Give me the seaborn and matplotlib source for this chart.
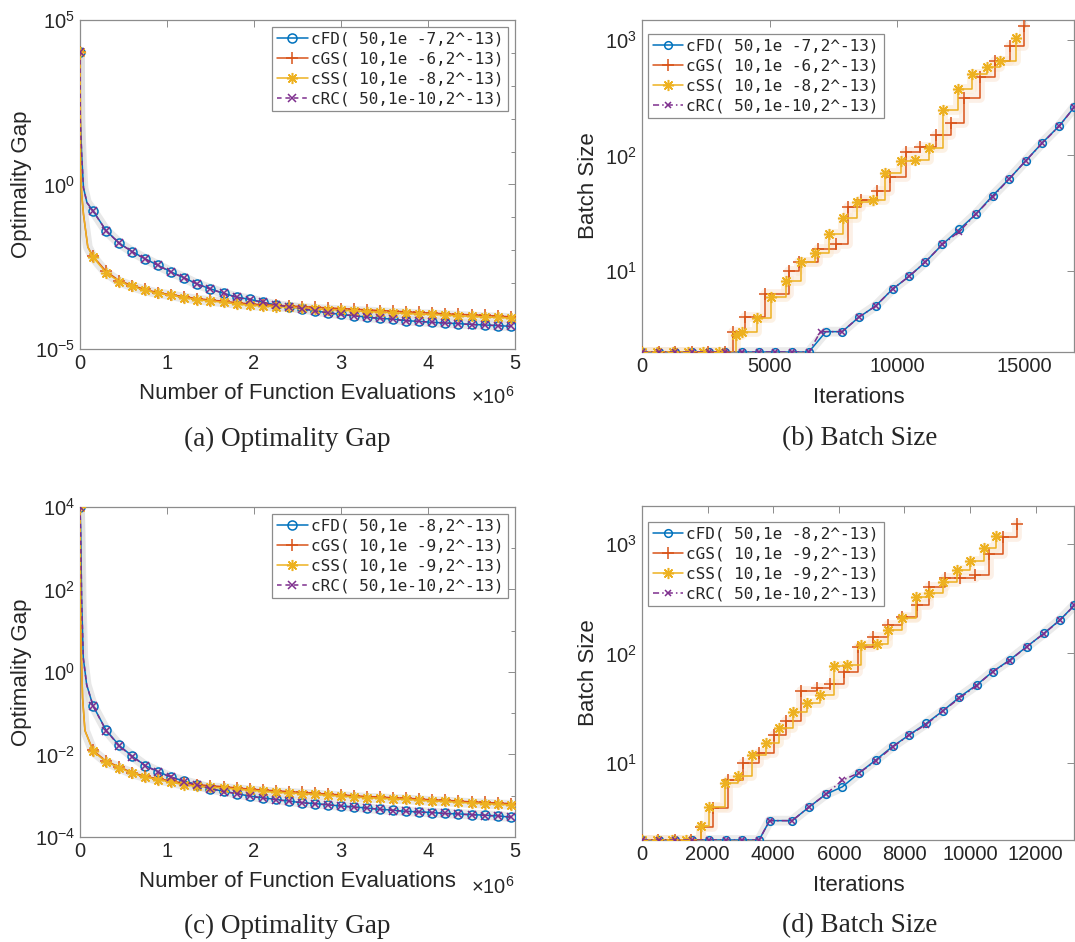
import numpy as np
import pandas as pd
import matplotlib
matplotlib.use("Agg")
import matplotlib.pyplot as plt
import seaborn as sns
from matplotlib.ticker import (FixedLocator, NullLocator, NullFormatter,
                               LogFormatterSciNotation)

# ---------------------------------------------------------------------------
# Data
# ---------------------------------------------------------------------------

# marker positions on the optimality gap panels (x 10^6 function evaluations)
evals = [0.15, 0.30, 0.45, 0.60, 0.75, 0.90, 1.05, 1.20, 1.35, 1.50, 1.65,
         1.80, 1.95, 2.10, 2.25, 2.40, 2.55, 2.70, 2.85, 3.00, 3.15, 3.30,
         3.45, 3.60, 3.75, 3.90, 4.05, 4.20, 4.35, 4.50, 4.65, 4.80, 4.95]

# panel (a): log10 of the optimality gap
a_fd_head_x = [0, 0.003, 0.02, 0.04, 0.08]
a_fd_head = [4.04, 2.0, 0.9, -0.1, -0.55]
a_fd = [-0.80, -1.40, -1.78, -2.04, -2.26, -2.46, -2.66, -2.84, -3.03, -3.17,
        -3.31, -3.42, -3.49, -3.58, -3.66, -3.71, -3.77, -3.84, -3.90, -3.95,
        -3.99, -4.03, -4.07, -4.09, -4.14, -4.16, -4.19, -4.21, -4.23, -4.25,
        -4.27, -4.29, -4.31]
a_rc = [-0.81, -1.40, -1.79, -2.04, -2.27, -2.46, -2.67, -2.84, -3.03, -3.18,
        -3.31, -3.43, -3.50, -3.58, -3.66, -3.72, -3.77, -3.84, -3.90, -3.95,
        -3.99, -4.04, -4.07, -4.10, -4.14, -4.16, -4.19, -4.21, -4.23, -4.26,
        -4.27, -4.29, -4.31]
a_ss_head_x = [0, 0.003, 0.008, 0.02, 0.04, 0.09]
a_ss_head = [4.04, 2.8, 0.35, -0.3, -0.9, -1.9]
a_ss = [-2.21, -2.68, -2.95, -3.10, -3.22, -3.31, -3.37, -3.44, -3.50, -3.54,
        -3.58, -3.63, -3.67, -3.69, -3.71, -3.73, -3.75, -3.78, -3.80, -3.82,
        -3.84, -3.86, -3.88, -3.90, -3.92, -3.94, -3.95, -3.97, -3.99, -4.01,
        -4.03, -4.04, -4.06]
a_gs = [-2.18, -2.64, -2.92, -3.07, -3.19, -3.29, -3.35, -3.41, -3.47, -3.51,
        -3.55, -3.59, -3.63, -3.65, -3.67, -3.69, -3.71, -3.73, -3.75, -3.77,
        -3.79, -3.81, -3.83, -3.85, -3.87, -3.89, -3.91, -3.93, -3.95, -3.96,
        -3.98, -4.00, -4.02]

# panel (c): log10 of the optimality gap
c_fd_head_x = [0, 0.008, 0.019, 0.038, 0.077]
c_fd_head = [4.0, 3.4, 1.78, 0.34, -0.31]
c_fd = [-0.82, -1.41, -1.78, -2.04, -2.27, -2.42, -2.55, -2.65, -2.73, -2.83,
        -2.89, -2.95, -3.01, -3.05, -3.09, -3.13, -3.17, -3.19, -3.22, -3.25,
        -3.27, -3.30, -3.33, -3.35, -3.38, -3.39, -3.41, -3.43, -3.44, -3.46,
        -3.47, -3.49, -3.52]
c_rc = [-0.82, -1.42, -1.79, -2.05, -2.27, -2.43, -2.55, -2.66, -2.74, -2.83,
        -2.90, -2.95, -3.01, -3.06, -3.10, -3.13, -3.17, -3.20, -3.22, -3.25,
        -3.28, -3.30, -3.33, -3.36, -3.38, -3.40, -3.41, -3.43, -3.45, -3.46,
        -3.48, -3.49, -3.52]
c_ss_head_x = [0, 0.005, 0.011, 0.03, 0.057]
c_ss_head = [4.0, 2.5, 0.75, -0.63, -1.42]
c_ss = [-1.92, -2.18, -2.32, -2.46, -2.55, -2.61, -2.67, -2.74, -2.77, -2.80,
        -2.81, -2.84, -2.87, -2.89, -2.92, -2.93, -2.95, -2.97, -2.99, -3.01,
        -3.03, -3.05, -3.06, -3.08, -3.09, -3.11, -3.13, -3.14, -3.16, -3.18,
        -3.19, -3.21, -3.22]
c_gs = [-1.90, -2.16, -2.30, -2.44, -2.53, -2.59, -2.64, -2.70, -2.73, -2.76,
        -2.78, -2.81, -2.84, -2.86, -2.88, -2.90, -2.92, -2.94, -2.96, -2.98,
        -3.00, -3.02, -3.03, -3.05, -3.06, -3.08, -3.10, -3.11, -3.13, -3.15,
        -3.16, -3.18, -3.19]

# panel (b): batch size vs iterations
b_fd_it = [0, 654, 1308, 1962, 2616, 3270, 3924, 4578, 5232, 5886, 6540,
           7210, 7850, 8505, 9160, 9827, 10470, 11110, 11776, 12443, 13084,
           13752, 14406, 15047, 15701, 16369, 16956]
b_fd = [2, 2, 2, 2, 2, 2, 2, 2, 2, 2, 2,
        3, 3, 4, 5, 7, 9, 12, 17, 23, 31, 45, 63, 90, 129, 181, 263]
b_rc_it = [0, 654, 1308, 1962, 2616, 3270, 3924, 4578, 5232, 5886, 6540,
           7000, 7850, 8505, 9160, 9827, 10470, 11110, 11776, 12443, 13084,
           13752, 14406, 15047, 15701, 16369, 16956]
b_rc = [2, 2, 2, 2, 2, 2, 2, 2, 2, 2, 2,
        3, 3, 4, 5, 7, 9, 12, 17, 22, 31, 44, 63, 90, 128, 180, 262]
b_gs_it = [0, 650, 1300, 1950, 2600, 3250, 3565, 4032, 4833, 5768, 6168,
           6903, 7610, 8078, 8585, 9212, 9733, 10347, 10908, 11509, 12110,
           12644, 13244, 13845, 14446, 14980]
b_gs = [2, 2, 2, 2, 2, 2, 3, 4, 6.4, 10, 12, 15.6, 17, 36, 41, 49, 65, 107,
        119, 150, 189, 312, 481, 649, 875, 1320]
b_ss_it = [0, 600, 1200, 1800, 2400, 3000, 3670, 3938, 4513, 5047, 5634,
           6235, 6769, 7343, 7877, 8438, 9039, 9546, 10147, 10708, 11242,
           11816, 12377, 12951, 13512, 14046, 14646]
b_ss = [2, 2, 2, 2, 2, 2, 2.8, 3, 3.9, 6, 8.3, 12, 14.4, 21, 29, 40, 41, 70,
        90, 92, 115, 247, 373, 507, 587, 649, 1033]

# panel (d): batch size vs iterations
d_fd_it = [0, 510, 1020, 1530, 2040, 2550, 3060, 3570, 3890, 4578, 5099,
           5598, 6108, 6628, 7128, 7638, 8137, 8658, 9178, 9677, 10198,
           10687, 11207, 11727, 12248, 12737, 13184]
d_fd = [2, 2, 2, 2, 2, 2, 2, 2, 3, 3, 4, 5.2, 6.1, 8.2, 10.7, 14.2, 18, 23,
        30, 40, 51.5, 68, 87, 115, 152, 201, 275]
d_rc_it = [0, 510, 1020, 1530, 2040, 2550, 3060, 3570, 3890, 4578, 5099,
           5598, 6108, 6628, 7128, 7638, 8137, 8658, 9178, 9677, 10198,
           10687, 11207, 11727, 12248, 12737, 13184]
d_rc = [2, 2, 2, 2, 2, 2, 2, 2, 3, 3, 4, 5.2, 7, 8.2, 10.5, 14, 18, 22.5,
        30, 39, 51, 68, 86, 115, 151, 200, 274]
d_gs_it = [0, 500, 1000, 1500, 1790, 2154, 2622, 3090, 3559, 4027, 4391,
           4860, 5328, 5744, 6160, 6576, 7045, 7492, 7929, 8397, 8762, 9230,
           9698, 10166, 10583, 10999, 11446]
d_gs = [2, 2, 2, 2, 2.6, 3.9, 7, 10, 12.3, 18, 24, 45, 48, 53, 68, 115, 142,
        181, 215, 275, 403, 481, 481, 515, 811, 1150, 1520]
d_ss_it = [0, 450, 900, 1350, 1800, 2050, 2518, 2934, 3351, 3767, 4183,
           4599, 5016, 5432, 5848, 6264, 6680, 7149, 7513, 7929, 8345, 8762,
           9178, 9594, 10010, 10427, 10791]
d_ss = [2, 2, 2, 2, 2.7, 4, 6.6, 7.6, 11.9, 15.2, 20.8, 29.5, 35, 42, 76, 78,
        119, 123, 163, 208, 327, 351, 449, 573, 695, 920, 1166]

labels_top = ["cFD( 50,1e -7,2^-13)", "cGS( 10,1e -6,2^-13)",
              "cSS( 10,1e -8,2^-13)", "cRC( 50,1e-10,2^-13)"]
labels_bot = ["cFD( 50,1e -8,2^-13)", "cGS( 10,1e -9,2^-13)",
              "cSS( 10,1e -9,2^-13)", "cRC( 50,1e-10,2^-13)"]

# MATLAB default line colours
C_FD = "#0072BD"
C_GS = "#D95319"
C_SS = "#EDB120"
C_RC = "#7E2F8E"
ASTER = (8, 2, 0)

sns.set_style("white")
plt.rcParams["font.family"] = ["Liberation Sans", "DejaVu Sans"]
plt.rcParams["mathtext.fontset"] = "custom"
plt.rcParams["mathtext.rm"] = "Liberation Sans"
plt.rcParams["mathtext.it"] = "Liberation Sans:italic"

fig = plt.figure(figsize=(10.75, 9.42), dpi=100)
ax_a = fig.add_axes([0.0744, 0.6295, 0.4047, 0.3493])
ax_b = fig.add_axes([0.5972, 0.6263, 0.4019, 0.3524])
ax_c = fig.add_axes([0.0744, 0.1115, 0.4047, 0.3503])
ax_d = fig.add_axes([0.5972, 0.1083, 0.4019, 0.3546])


def line(ax, x, y, color, marker, label=None, ls="-", ms=6.5, mfc="none",
         markevery=None, steps=False, lw=1.1, halo=None):
    df = pd.DataFrame({"x": x, "y": y})
    ds = "steps-post" if steps else "default"
    if halo is not None:
        sns.lineplot(data=df, x="x", y="y", ax=ax, color=halo, lw=7,
                     estimator=None, sort=False, errorbar=None, alpha=0.6,
                     drawstyle=ds, zorder=1)
    sns.lineplot(data=df, x="x", y="y", ax=ax, color=color, lw=lw, ls=ls,
                 marker=marker, ms=ms, mfc=mfc, mec=color, mew=1.1,
                 markevery=markevery, estimator=None, sort=False,
                 errorbar=None, label=label, zorder=3, drawstyle=ds)


def gap_panel(ax, fd_hx, fd_h, fd, rc, ss_hx, ss_h, ss, gs, labels, ylim,
              majors, minors):
    n_fd = len(fd_hx)
    n_ss = len(ss_hx)
    x_fd = np.array(fd_hx + evals) * 1e6
    x_ss = np.array(ss_hx + evals) * 1e6
    mk_fd = [0] + list(range(n_fd, n_fd + len(evals)))
    mk_ss = [0] + list(range(n_ss, n_ss + len(evals)))
    line(ax, x_fd, 10.0 ** np.array(fd_h + fd), C_FD, "o", labels[0],
         markevery=mk_fd, halo="#d9d9d9")
    line(ax, x_ss, 10.0 ** np.array(ss_h + gs), C_GS, "+", labels[1],
         ms=8, markevery=mk_ss)
    line(ax, x_ss, 10.0 ** np.array(ss_h + ss), C_SS, ASTER, labels[2],
         ms=8, markevery=mk_ss, halo="#d9d9d9")
    line(ax, x_fd, 10.0 ** np.array(fd_h + rc), C_RC, "x", labels[3],
         ls=(0, (3, 2.5)), ms=5.5, markevery=mk_fd)
    ax.set_yscale("log")
    ax.set_xlim(0, 5e6)
    ax.set_ylim(*ylim)
    ax.yaxis.set_major_locator(FixedLocator(majors))
    ax.yaxis.set_minor_locator(FixedLocator(minors))
    ax.yaxis.set_major_formatter(LogFormatterSciNotation())
    ax.yaxis.set_minor_formatter(NullFormatter())
    ax.xaxis.set_major_locator(FixedLocator([0, 1e6, 2e6, 3e6, 4e6, 5e6]))
    ax.set_xticklabels(["0", "1", "2", "3", "4", "5"])
    ax.set_xlabel("Number of Function Evaluations", fontsize=16)
    ax.set_ylabel("Optimality Gap", fontsize=16)
    ax.xaxis.set_label_coords(0.50, -0.104)
    ax.yaxis.set_label_coords(-0.11, 0.5)


def batch_panel(ax, fd_it, fd, rc_it, rc, gs_it, gs, ss_it, ss, labels,
                xlim, ylim, xticks):
    line(ax, fd_it, fd, C_FD, "o", labels[0], ms=5.5, halo="#dedede")
    line(ax, gs_it, gs, C_GS, "+", labels[1], ms=8, steps=True,
         halo="#fbe6d8")
    line(ax, ss_it, ss, C_SS, ASTER, labels[2], ms=8, steps=True,
         halo="#fbe9d2")
    line(ax, rc_it, rc, C_RC, "x", labels[3], ms=4.5,
         ls=(0, (4, 2, 1, 2)))
    ax.set_yscale("log")
    ax.set_xlim(*xlim)
    ax.set_ylim(*ylim)
    ax.yaxis.set_major_locator(FixedLocator([10, 100, 1000]))
    ax.yaxis.set_minor_locator(NullLocator())
    ax.yaxis.set_major_formatter(LogFormatterSciNotation())
    ax.xaxis.set_major_locator(FixedLocator(xticks))
    ax.set_xticklabels([str(t) for t in xticks])
    ax.set_xlabel("Iterations", fontsize=16)
    ax.set_ylabel("Batch Size", fontsize=16)
    ax.xaxis.set_label_coords(0.502, -0.105)
    ax.yaxis.set_label_coords(-0.099, 0.5)


gap_panel(ax_a, a_fd_head_x, a_fd_head, a_fd, a_rc, a_ss_head_x, a_ss_head,
          a_ss, a_gs, labels_top, (1e-5, 1e5), [1e-5, 1e0, 1e5],
          [10.0 ** k for k in range(-5, 6)])
gap_panel(ax_c, c_fd_head_x, c_fd_head, c_fd, c_rc, c_ss_head_x, c_ss_head,
          c_ss, c_gs, labels_bot, (1e-4, 1e4), [1e-4, 1e-2, 1e0, 1e2, 1e4],
          [10.0 ** k for k in range(-4, 5)])
batch_panel(ax_b, b_fd_it, b_fd, b_rc_it, b_rc, b_gs_it, b_gs, b_ss_it, b_ss,
            labels_top, (0, 16940), (2, 1480), [0, 5000, 10000, 15000])
batch_panel(ax_d, d_fd_it, d_fd, d_rc_it, d_rc, d_gs_it, d_gs, d_ss_it, d_ss,
            labels_bot, (0, 13170), (2, 2200),
            [0, 2000, 4000, 6000, 8000, 10000, 12000])

for ax in [ax_a, ax_b, ax_c, ax_d]:
    for sp in ax.spines.values():
        sp.set_color("#8c8c8c")
        sp.set_linewidth(0.9)
    ax.tick_params(which="both", direction="in", top=True, right=True,
                   labelsize=14.5, colors="#262626", length=5, width=0.7)
    ax.tick_params(which="both", color="#8c8c8c")
    ax.tick_params(which="minor", length=3)
    ax.xaxis.set_minor_locator(NullLocator())

leg_kw = dict(prop={"family": "DejaVu Sans Mono", "size": 11.5},
              frameon=True, fancybox=False, framealpha=1, edgecolor="#8c8c8c",
              borderpad=0.3, labelspacing=0.3, handlelength=1.9,
              handletextpad=0.2, borderaxespad=0, numpoints=1)
ax_a.legend(loc="upper right", bbox_to_anchor=(508 / 1075, 1 - 27 / 942),
            bbox_transform=fig.transFigure, **leg_kw)
ax_c.legend(loc="upper right", bbox_to_anchor=(508 / 1075, 1 - 514 / 942),
            bbox_transform=fig.transFigure, **leg_kw)
ax_b.legend(loc="upper left", bbox_to_anchor=(648 / 1075, 1 - 34 / 942),
            bbox_transform=fig.transFigure, **leg_kw)
ax_d.legend(loc="upper left", bbox_to_anchor=(648 / 1075, 1 - 522 / 942),
            bbox_transform=fig.transFigure, **leg_kw)
for ax in [ax_a, ax_b, ax_c, ax_d]:
    ax.get_legend().get_frame().set_linewidth(0.9)

# MATLAB style exponent under the x axis
for ax, yoff in [(ax_a, -0.145), (ax_c, -0.152)]:
    ax.text(1.0, yoff, r"$\times\mathregular{10^{6}}$", transform=ax.transAxes,
            ha="right", va="center", fontsize=14.5, color="#262626")

# sub-figure captions
cap_kw = dict(ha="center", va="center", fontsize=19.5,
              family=["Liberation Serif", "DejaVu Serif"])
fig.text(287 / 1075, 1 - 439 / 942, "(a) Optimality Gap", **cap_kw)
fig.text(860 / 1075, 1 - 439 / 942, "(b) Batch Size", **cap_kw)
fig.text(287 / 1075, 1 - 926 / 942, "(c) Optimality Gap", **cap_kw)
fig.text(860 / 1075, 1 - 926 / 942, "(d) Batch Size", **cap_kw)

fig.savefig("out.png", dpi=100)
